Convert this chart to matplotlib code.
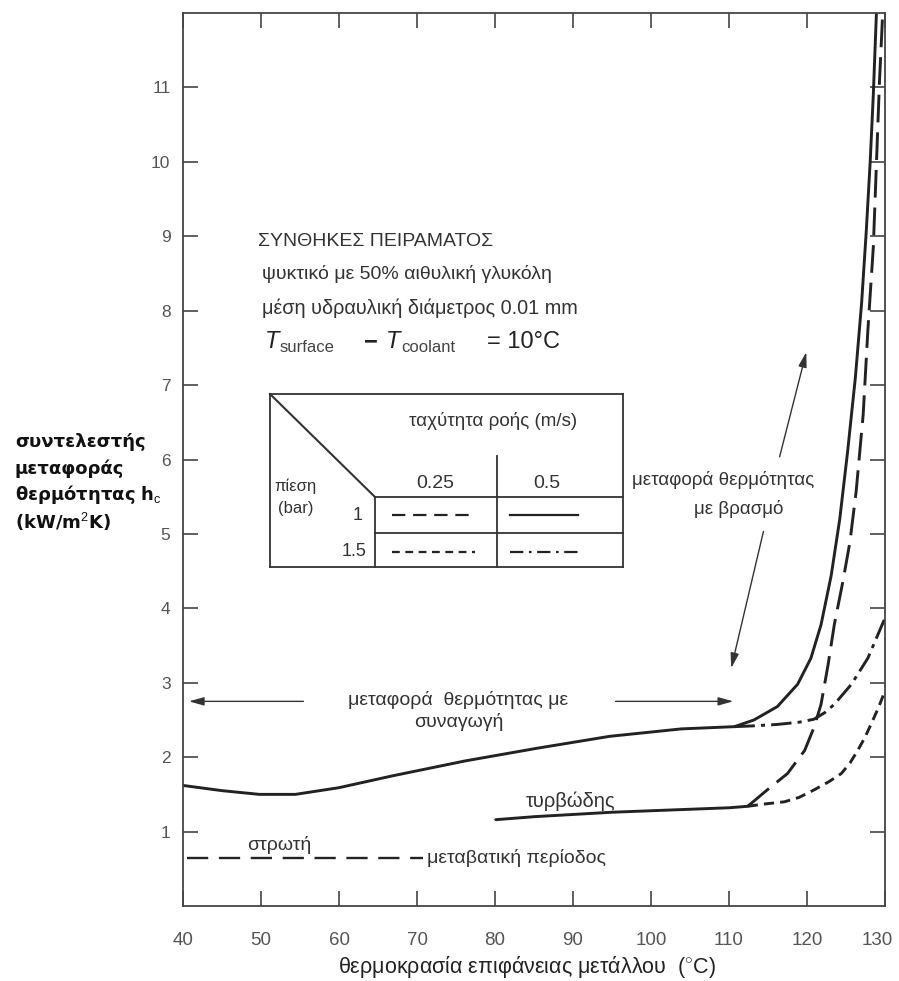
import matplotlib
matplotlib.use("Agg")
import matplotlib.pyplot as plt
import matplotlib.transforms as mtransforms
import numpy as np

plt.rcParams['font.family'] = ['Liberation Sans', 'DejaVu Sans']
plt.rcParams['mathtext.fontset'] = 'custom'
plt.rcParams['mathtext.rm'] = 'Liberation Sans'
plt.rcParams['mathtext.it'] = 'Liberation Sans:italic'
plt.rcParams['mathtext.bf'] = 'Liberation Sans:bold'

# ---------------- data ----------------
x_ticks = [40, 50, 60, 70, 80, 90, 100, 110, 120, 130]
y_ticks = [1, 2, 3, 4, 5, 6, 7, 8, 9, 10, 11]

# convection curve (solid, 0.5 m/s, 1 bar) up to onset of boiling
conv_x = [40, 45, 49.8, 54.4, 60, 66.9, 76.2, 85.4, 94.7, 103.9, 110.7]
conv_y = [1.62, 1.55, 1.50, 1.50, 1.59, 1.75, 1.95, 2.12, 2.28, 2.38, 2.41]

# boiling part of the solid curve (0.5 m/s, 1 bar)
solid_x = [110.7, 113.2, 116.2, 118.8, 120.5, 121.8, 123.1, 124.2, 125.2, 126.2,
           127.0, 127.6, 128.1, 128.5, 128.9]
solid_y = [2.41, 2.50, 2.68, 2.98, 3.33, 3.78, 4.44, 5.20, 6.10, 7.10,
           8.10, 9.07, 10.0, 10.9, 12.0]

# turbulent line (solid)
turb_x = [80.1, 85, 90, 95, 100, 105, 110, 112.4]
turb_y = [1.16, 1.20, 1.23, 1.26, 1.28, 1.30, 1.32, 1.34]

# 0.25 m/s, 1 bar (long dash)
ld_x = [112.4, 114.9, 117.5, 119.7, 120.9, 121.8, 122.7, 123.5, 124.6, 125.5,
        126.3, 127.2, 127.8, 128.5, 128.9, 129.3, 129.6, 129.7]
ld_y = [1.34, 1.56, 1.78, 2.09, 2.40, 2.71, 3.24, 3.78, 4.36, 4.89,
        5.57, 6.60, 7.73, 8.85, 9.97, 11.1, 11.76, 12.0]

# 0.5 m/s, 1.5 bar (dash-dot)
dd_x = [110.7, 113, 116.2, 119, 120.9, 122.3, 123.5, 125.7, 127.8, 130]
dd_y = [2.41, 2.42, 2.44, 2.47, 2.51, 2.60, 2.71, 2.98, 3.33, 3.87]

# 0.25 m/s, 1.5 bar (short dash)
sd_x = [112.4, 114.5, 117.1, 119, 120.9, 122.8, 124.4, 125.5, 126.5, 127.4, 128.2, 129.1, 130]
sd_y = [1.34, 1.37, 1.40, 1.46, 1.56, 1.67, 1.78, 1.92, 2.09, 2.26, 2.44, 2.65, 2.89]

# laminar (dashed)
lam_x = [40.5, 70.8]
lam_y = [0.64, 0.64]

# ---------------- figure ----------------
W, H = 899, 981
fig = plt.figure(figsize=(W / 100, H / 100), dpi=100)
L, R, T, B = 183, 885, 13, 906
ax = fig.add_axes([L / W, 1 - B / H, (R - L) / W, (B - T) / H])
ax.set_xlim(40, 130)
ax.set_ylim(0, 12)

LC = '#222222'
TC = '#333333'
LW = 2.1

ax.plot(conv_x, conv_y, color=LC, lw=LW, solid_capstyle='round')
ax.plot(solid_x, solid_y, color=LC, lw=LW, solid_capstyle='round')
ax.plot(turb_x, turb_y, color=LC, lw=LW, solid_capstyle='round')
ax.plot(ld_x, ld_y, color=LC, lw=LW, dashes=(9.5, 3.4))
ax.plot(dd_x, dd_y, color=LC, lw=LW, dashes=(7.0, 2.1, 1.4, 2.1))
ax.plot(sd_x, sd_y, color=LC, lw=LW, dashes=(3.5, 2.1))
ax.plot(lam_x, lam_y, color=LC, lw=1.7, dashes=(9, 4.5))

# axes styling
for s in ax.spines.values():
    s.set_color('#444444')
    s.set_linewidth(1.3)
ax.set_xticks(x_ticks)
ax.set_yticks(y_ticks)
ax.set_xticklabels([str(v) for v in x_ticks])
ax.set_yticklabels([str(v) for v in y_ticks])
ax.tick_params(axis='both', which='both', direction='in', top=True, right=True,
               length=11, width=1.2, color='#444444', labelcolor='#555555')
ax.tick_params(axis='x', pad=19, labelsize=13.5)
ax.tick_params(axis='y', pad=9, labelsize=12.5)
# keep the last x label inside the figure (as in the reference)
last = ax.get_xticklabels()[-1]
last.set_transform(last.get_transform() +
                   mtransforms.ScaledTranslation(-8 / 100, 0, fig.dpi_scale_trans))

# axis labels
fig.text(527 / W, 1 - 967 / H, 'θερμοκρασία επιφάνειας μετάλλου  ($^{\\circ}$C)',
         ha='center', va='center', fontsize=15.5, color='#222222')
ylab_lines = ['συντελεστής', 'μεταφοράς', 'θερμότητας h$_{\\rm c}$', '(kW/m$^{\\rm 2}$K)']
for i, s in enumerate(ylab_lines):
    fig.text(15 / W, 1 - (442 + 26.5 * i) / H, s, ha='left', va='center',
             fontsize=13, color='#111111', family='DejaVu Sans', fontweight='bold')


def P(px, py):
    """pixel position in the reference -> axes fraction"""
    return ((px - L) / (R - L), (B - py) / (B - T))


def txt(px, py, s, **kw):
    kw.setdefault('color', TC)
    kw.setdefault('fontsize', 12)
    ax.text(*P(px, py), s, transform=ax.transAxes, **kw)


def seg(p1, p2, **kw):
    a, b = P(*p1), P(*p2)
    kw.setdefault('color', '#333333')
    kw.setdefault('lw', 1.3)
    ax.plot([a[0], b[0]], [a[1], b[1]], transform=ax.transAxes, **kw)


# experiment conditions
txt(258, 242, 'ΣΥΝΘΗΚΕΣ ΠΕΙΡΑΜΑΤΟΣ', ha='left', va='center', fontsize=14)
txt(262, 274, 'ψυκτικό με 50% αιθυλική γλυκόλη', ha='left', va='center', fontsize=14)
txt(262, 308, 'μέση υδραυλική διάμετρος 0.01 mm', ha='left', va='center', fontsize=14.3)
txt(265, 342, 'T', ha='left', va='center', fontsize=17, style='italic', color='#222222')
txt(280, 348, 'surface', ha='left', va='center', fontsize=12, color='#444444')
txt(364, 342, '−', ha='left', va='center', fontsize=17, fontweight='bold', color='#222222')
txt(386, 342, 'T', ha='left', va='center', fontsize=17, style='italic', color='#222222')
txt(401, 348, 'coolant', ha='left', va='center', fontsize=12, color='#444444')
txt(487, 342, '= 10°C', ha='left', va='center', fontsize=17, color='#222222')

# legend table
tl, tr, tt, tb = 270, 623, 394, 567
seg((tl, tt), (tr, tt)); seg((tl, tb), (tr, tb))
seg((tl, tt), (tl, tb)); seg((tr, tt), (tr, tb))
seg((tl, tt), (375, 497), lw=1.5)
seg((375, 497), (tr, 497))
seg((375, 533), (tr, 533))
seg((375, 497), (375, tb))
seg((497, 456), (497, tb))
txt(493, 421, 'ταχύτητα ροής (m/s)', ha='center', va='center', fontsize=13.5)
txt(435, 483, '0.25', ha='center', va='center', fontsize=14)
txt(547, 483, '0.5', ha='center', va='center', fontsize=14)
txt(296, 486, 'πίεση', ha='center', va='center', fontsize=12)
txt(296, 508, '(bar)', ha='center', va='center', fontsize=12)
txt(358, 515, '1', ha='center', va='center', fontsize=13)
txt(354, 552, '1.5', ha='center', va='center', fontsize=13)
seg((392, 515), (474, 515), color=LC, lw=1.6, dashes=(6, 3.5))
seg((510, 515), (578, 515), color=LC, lw=1.6)
seg((392, 552), (475, 552), color=LC, lw=1.6, dashes=(3.5, 2.5))
seg((510, 552), (578, 552), color=LC, lw=1.6, dashes=(6, 2.5, 1.2, 2.5))

# region labels
ax.text(52.3, 0.82, 'στρωτή', ha='center', va='center', fontsize=14, color=TC)
ax.text(71.3, 0.64, 'μεταβατική περίοδος', ha='left', va='center', fontsize=14, color=TC)
ax.text(89.7, 1.41, 'τυρβώδης', ha='center', va='center', fontsize=14.5, color=TC)

# convection label with arrows
ax.text(75.3, 2.77, 'μεταφορά  θερμότητας με', ha='center', va='center', fontsize=14, color=TC)
ax.text(75.3, 2.47, 'συναγωγή', ha='center', va='center', fontsize=14, color=TC)
ap = dict(arrowstyle='-|>,head_length=0.9,head_width=0.25', color='#333333', lw=1.0)
ax.annotate('', xy=(40.4, 2.75), xytext=(55.8, 2.75), arrowprops=ap)
ax.annotate('', xy=(110.9, 2.75), xytext=(95.1, 2.75), arrowprops=ap)

# boiling label with arrows
ax.text(109.3, 5.73, 'μεταφορά θερμότητας', ha='center', va='center', fontsize=13.5, color=TC)
ax.text(111.3, 5.33, 'με βρασμό', ha='center', va='center', fontsize=13.5, color=TC)
ax.annotate('', xy=(120.0, 7.48), xytext=(116.4, 6.0), arrowprops=ap)
ax.annotate('', xy=(110.2, 3.16), xytext=(114.5, 5.07), arrowprops=ap)

fig.savefig('out.png', dpi=100, facecolor='white')
